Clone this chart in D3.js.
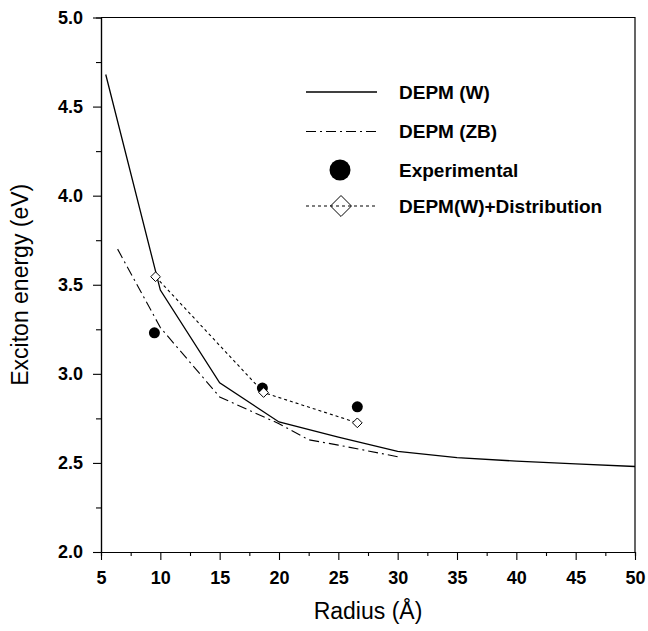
<!DOCTYPE html>
<html>
<head>
<meta charset="utf-8">
<script src="https://cdn.jsdelivr.net/npm/d3@7"></script>
<style>
  body { margin: 0; background: #fff; }
  text { font-family: "Liberation Sans", Arial, sans-serif; }
</style>
</head>
<body>
<script>
// DEPM (W) curve
var wRadius = [5.4, 10, 15, 20, 25, 30, 35, 40, 45, 50];
var wEnergy = [4.68, 3.47, 2.95, 2.73, 2.645, 2.565, 2.53, 2.51, 2.495, 2.48];
// DEPM (ZB) curve
var zbRadius = [6.4, 10, 15, 20, 22.5, 25, 30];
var zbEnergy = [3.70, 3.26, 2.87, 2.72, 2.63, 2.60, 2.535];
// experimental points
var expRadius = [9.5, 18.6, 26.6];
var expEnergy = [3.23, 2.92, 2.815];
// DEPM(W)+Distribution
var distRadius = [9.6, 18.7, 26.6];
var distEnergy = [3.545, 2.895, 2.725];

var xTicks = [5, 10, 15, 20, 25, 30, 35, 40, 45, 50];
var yTicks = [2.0, 2.5, 3.0, 3.5, 4.0, 4.5, 5.0];
var legendLabels = ["DEPM (W)", "DEPM (ZB)", "Experimental", "DEPM(W)+Distribution"];

var w = 648, h = 631;
var svg = d3.select("body").append("svg")
    .attr("width", w)
    .attr("height", h);

var x = d3.scaleLinear().domain([5, 50]).range([101, 635]);
var y = d3.scaleLinear().domain([2, 5]).range([552, 17.5]);

function pts(xs, ys) { return xs.map(function(d, i) { return [d, ys[i]]; }); }

// frame (top and right)
svg.append("path")
   .attr("d", "M" + x(5) + "," + y(5) + "H" + x(50) + "V" + y(2))
   .attr("fill", "none").attr("stroke", "#000").attr("stroke-width", 1.2);

// minor ticks
var xAxisMinor = d3.axisBottom(x).tickValues(d3.range(7.5, 50, 5)).tickSize(4).tickFormat("");
var yAxisMinor = d3.axisLeft(y).tickValues(d3.range(2.25, 5, 0.5)).tickSize(5).tickFormat("");
svg.append("g").attr("transform", "translate(0," + y(2) + ")").call(xAxisMinor);
svg.append("g").attr("transform", "translate(" + x(5) + ",0)").call(yAxisMinor);

var xAxis = d3.axisBottom(x).tickValues(xTicks).tickSize(8).tickSizeOuter(0).tickPadding(9);
var yAxis = d3.axisLeft(y).tickValues(yTicks).tickSize(8).tickSizeOuter(0).tickPadding(10)
    .tickFormat(d3.format(".1f"));

var gx = svg.append("g").attr("transform", "translate(0," + y(2) + ")").call(xAxis);
var gy = svg.append("g").attr("transform", "translate(" + x(5) + ",0)").call(yAxis);

svg.selectAll(".domain").attr("stroke-width", 1.2);
svg.selectAll(".tick line").attr("stroke-width", 1.1);
svg.selectAll(".tick text")
   .attr("font-size", 18)
   .attr("font-weight", "bold")
   .attr("fill", "#000")
   .style("font-family", "'Liberation Sans', Arial, sans-serif");
gx.selectAll(".tick text").attr("dy", "0.85em");

// axis titles
svg.append("text")
   .attr("x", 368).attr("y", 619)
   .attr("text-anchor", "middle")
   .attr("font-size", 23)
   .text("Radius (Å)");
svg.append("text")
   .attr("transform", "translate(28," + y(3.5) + ") rotate(-90)")
   .attr("text-anchor", "middle")
   .attr("font-size", 23)
   .text("Exciton energy (eV)");

var line = d3.line().x(function(d) { return x(d[0]); }).y(function(d) { return y(d[1]); });

// lines
svg.append("path").datum(pts(wRadius, wEnergy))
   .attr("d", line).attr("fill", "none").attr("stroke", "#000").attr("stroke-width", 1.3);
svg.append("path").datum(pts(zbRadius, zbEnergy))
   .attr("d", line).attr("fill", "none").attr("stroke", "#000").attr("stroke-width", 1.1)
   .attr("stroke-dasharray", "10,4,2,4");
svg.append("path").datum(pts(distRadius, distEnergy))
   .attr("d", line).attr("fill", "none").attr("stroke", "#000").attr("stroke-width", 1.1)
   .attr("stroke-dasharray", "3,3");

// experimental dots
svg.selectAll("circle.exp")
   .data(pts(expRadius, expEnergy))
   .enter().append("circle")
   .attr("class", "exp")
   .attr("cx", function(d) { return x(d[0]); })
   .attr("cy", function(d) { return y(d[1]); })
   .attr("r", 5.5)
   .attr("fill", "#000");

// diamonds
var diamond = d3.symbol().type(d3.symbolDiamond2).size(60);
svg.selectAll("path.dist")
   .data(pts(distRadius, distEnergy))
   .enter().append("path")
   .attr("class", "dist")
   .attr("d", diamond)
   .attr("transform", function(d) { return "translate(" + x(d[0]) + "," + y(d[1]) + ")"; })
   .attr("fill", "#fff").attr("stroke", "#000").attr("stroke-width", 1);

// legend
var legY = [92, 131.5, 170, 206];
var lg = svg.append("g");
lg.append("line").attr("x1", 306).attr("x2", 377).attr("y1", legY[0]).attr("y2", legY[0])
  .attr("stroke", "#000").attr("stroke-width", 1.3);
lg.append("line").attr("x1", 306).attr("x2", 377).attr("y1", legY[1]).attr("y2", legY[1])
  .attr("stroke", "#000").attr("stroke-width", 1.1).attr("stroke-dasharray", "10,4,2,4");
lg.append("circle").attr("cx", 340).attr("cy", legY[2]).attr("r", 10.5).attr("fill", "#000");
lg.append("line").attr("x1", 306).attr("x2", 377).attr("y1", legY[3]).attr("y2", legY[3])
  .attr("stroke", "#000").attr("stroke-width", 1.1).attr("stroke-dasharray", "3,3");
lg.append("path").attr("d", d3.symbol().type(d3.symbolDiamond2).size(280))
  .attr("transform", "translate(341," + legY[3] + ")")
  .attr("fill", "none").attr("stroke", "#000").attr("stroke-width", 1);
lg.selectAll("text.leg")
  .data(legendLabels)
  .enter().append("text")
  .attr("class", "leg")
  .attr("x", 399)
  .attr("y", function(d, i) { return legY[i]; })
  .attr("dy", "0.36em")
  .attr("font-size", 19)
  .attr("font-weight", "bold")
  .text(function(d) { return d; });
</script>
</body>
</html>
